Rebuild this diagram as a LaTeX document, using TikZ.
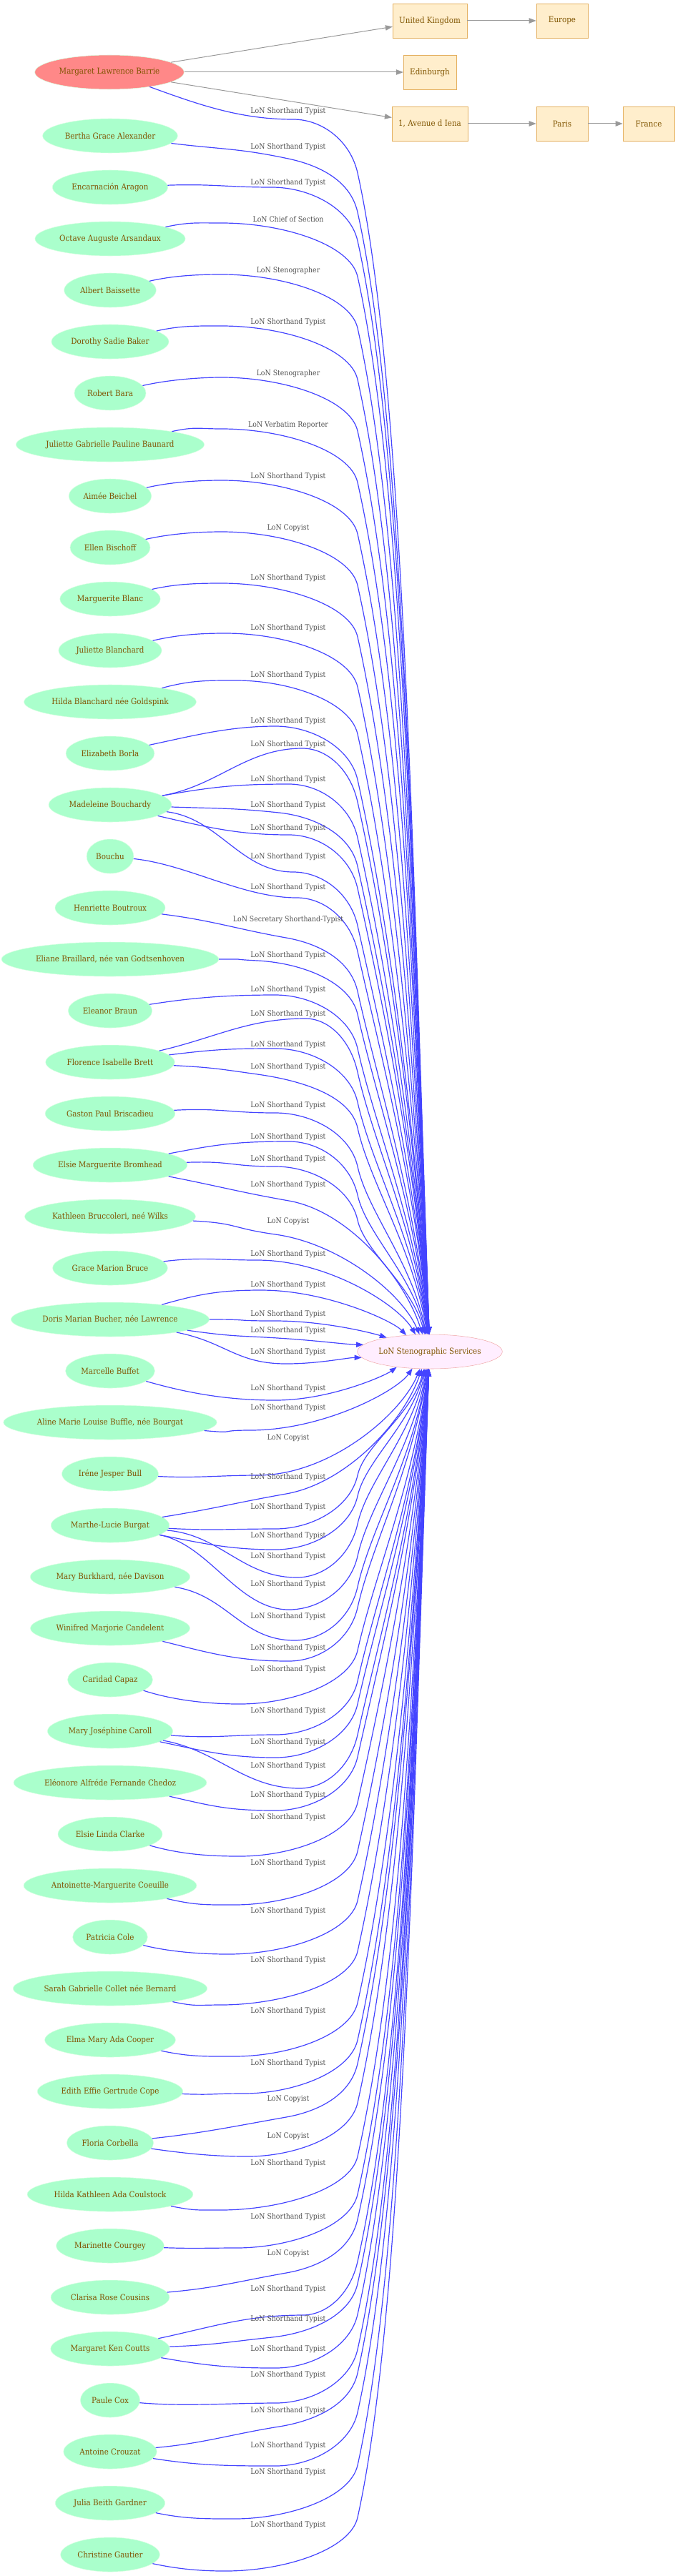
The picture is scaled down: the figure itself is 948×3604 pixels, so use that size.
\documentclass[tikz,border=0pt]{standalone}
\usepackage{fontspec}
\setmainfont{DejaVu Serif}[FakeStretch=0.9]
\usetikzlibrary{shapes.geometric,arrows.meta}
\definecolor{persongreen}{RGB}{170,255,204}
\definecolor{personline}{RGB}{215,255,225}
\definecolor{barriered}{RGB}{255,136,136}
\definecolor{servicepink}{RGB}{255,238,255}
\definecolor{serviceline}{RGB}{240,170,170}
\definecolor{placefill}{RGB}{255,238,204}
\definecolor{placeline}{RGB}{228,176,96}
\definecolor{nametext}{RGB}{128,84,0}
\definecolor{jobblue}{RGB}{68,68,255}
\definecolor{placegray}{RGB}{153,153,153}
\definecolor{jobtext}{RGB}{80,80,80}

\begin{document}
\begin{tikzpicture}[x=0.75pt,y=0.75pt,
  person/.style={ellipse,draw=personline,fill=persongreen,text=nametext,
    minimum height=36pt,inner xsep=2.6pt,inner ysep=1pt,font=\fontsize{8.6}{10}\selectfont},
  service/.style={ellipse,draw=serviceline,fill=servicepink,text=nametext,
    minimum height=36pt,inner xsep=0pt,inner ysep=1pt,font=\fontsize{8.6}{10}\selectfont},
  place/.style={rectangle,draw=placeline,fill=placefill,text=nametext,
    minimum width=54pt,minimum height=36pt,inner xsep=6.75pt,font=\fontsize{8.6}{10}\selectfont},
  joblabel/.style={text=jobtext,inner sep=0pt,font=\fontsize{7.8}{9}\selectfont},
  job/.style={jobblue,line width=0.9pt,-{Triangle[length=7.5pt,width=5.5pt]}},
  placeedge/.style={placegray,line width=0.75pt,-{Triangle[length=7.5pt,width=5.5pt]}}]

  \useasboundingbox (0,0) rectangle (948,-3604);

  \node[person,fill=barriered] (barrie) at (153,-101) {Margaret Lawrence Barrie};
  \node[place] (uk) at (601,-29) {United Kingdom};
  \node[place] (europe) at (786,-29) {Europe};
  \node[place] (edinburgh) at (601,-101) {Edinburgh};
  \node[place] (iena) at (601,-173) {1, Avenue d Iena};
  \node[place] (paris) at (786,-173) {Paris};
  \node[place] (france) at (907,-173) {France};
  \node[service] (lonss) at (601,-1891) {LoN Stenographic Services};

  \foreach \a/\b in {barrie/uk,barrie/edinburgh,barrie/iena,uk/europe,iena/paris,paris/france}
    \draw[placeedge] (\a) -- (\b);

  \foreach \nm/\txt [count=\i] in {
    alexander/Bertha Grace Alexander,
    aragon/Encarnación Aragon,
    arsandaux/Octave Auguste Arsandaux,
    baissette/Albert Baissette,
    baker/Dorothy Sadie Baker,
    bara/Robert Bara,
    baunard/Juliette Gabrielle Pauline Baunard,
    beichel/Aimée Beichel,
    bischoff/Ellen Bischoff,
    blanc/Marguerite Blanc,
    blanchardj/Juliette Blanchard,
    blanchardh/Hilda Blanchard née Goldspink,
    borla/Elizabeth Borla,
    bouchardy/Madeleine Bouchardy,
    bouchu/Bouchu,
    boutroux/Henriette Boutroux,
    braillard/{Eliane Braillard, née van Godtsenhoven},
    braun/Eleanor Braun,
    brett/Florence Isabelle Brett,
    briscadieu/Gaston Paul Briscadieu,
    bromhead/Elsie Marguerite Bromhead,
    bruccoleri/{Kathleen Bruccoleri, neé Wilks},
    bruce/Grace Marion Bruce,
    bucher/{Doris Marian Bucher, née Lawrence},
    buffet/Marcelle Buffet,
    buffle/{Aline Marie Louise Buffle, née Bourgat},
    bull/Iréne Jesper Bull,
    burgat/Marthe-Lucie Burgat,
    burkhard/{Mary Burkhard, née Davison},
    candelent/Winifred Marjorie Candelent,
    capaz/Caridad Capaz,
    caroll/Mary Joséphine Caroll,
    chedoz/Eléonore Alfréde Fernande Chedoz,
    clarke/Elsie Linda Clarke,
    coeuille/Antoinette-Marguerite Coeuille,
    cole/Patricia Cole,
    collet/Sarah Gabrielle Collet née Bernard,
    cooper/Elma Mary Ada Cooper,
    cope/Edith Effie Gertrude Cope,
    corbella/Floria Corbella,
    coulstock/Hilda Kathleen Ada Coulstock,
    courgey/Marinette Courgey,
    cousins/Clarisa Rose Cousins,
    coutts/Margaret Ken Coutts,
    cox/Paule Cox,
    crouzat/Antoine Crouzat,
    gardner/Julia Beith Gardner,
    gautier/Christine Gautier}
  {
    \node[person] (\nm) at (154,{-190-72*(\i-1)}) {\txt};
  }

  % source / leaving angle / turn point x,y / turn angle / label y / job
  \foreach \src/\ang/\mx/\my/\ps/\ly/\job [count=\jobno] in {
    barrie/-20/410/167/0/156/Shorthand Typist,
    alexander/-7/403/222/-12/206/Shorthand Typist,
    aragon/2/380/262/0/256/Shorthand Typist,
    arsandaux/12/310/312/0/307/Chief of Section,
    baissette/13/310/384/0/379/Stenographer,
    baker/13/310/456/0/451/Shorthand Typist,
    bara/13/310/528/0/523/Stenographer,
    baunard/12/310/600/0/595/Verbatim Reporter,
    beichel/13/310/672/0/667/Shorthand Typist,
    bischoff/13/310/744/0/739/Copyist,
    blanc/13/310/816/0/809/Shorthand Typist,
    blanchardj/13/315/886/0/879/Shorthand Typist,
    blanchardh/15/330/952/0/945/Shorthand Typist,
    borla/12/385/1016/0/1009/Shorthand Typist,
    bouchardy/10/423/1047/0/1042/Shorthand Typist,
    bouchardy/10/404/1097/0/1091/Shorthand Typist,
    bouchardy/-2/390/1137/-6/1127/Shorthand Typist,
    bouchardy/-13/404/1168/0/1159/Shorthand Typist,
    bouchardy/-7/410/1220/0/1199/Shorthand Typist,
    bouchu/-6/415/1256/0/1242/Shorthand Typist,
    boutroux/-7/400/1312/-10/1287/Secretary Shorthand-Typist,
    braillard/0/360/1344/-3/1337/Shorthand Typist,
    braun/9/385/1392/0/1385/Shorthand Typist,
    brett/13/427/1425/0/1419/Shorthand Typist,
    brett/7/385/1467/0/1462/Shorthand Typist,
    brett/-3/360/1503/-8/1493/Shorthand Typist,
    briscadieu/3/385/1557/0/1547/Shorthand Typist,
    bromhead/11/404/1597/0/1591/Shorthand Typist,
    bromhead/2/385/1632/0/1622/Shorthand Typist,
    bromhead/-11/404/1680/-10/1658/Shorthand Typist,
    bruccoleri/-3/385/1727/-8/1709/Copyist,
    bruce/7/360/1763/0/1755/Shorthand Typist,
    bucher/16/365/1805/0/1798/Shorthand Typist,
    bucher/0/385/1848/0/1839/Shorthand Typist,
    bucher/-8/403/1873/-4/1862/Shorthand Typist,
    bucher/-11/400/1908/0/1892/Shorthand Typist,
    buffet/-16/385/1959/0/1943/Shorthand Typist,
    buffle/-5/350/2001/0/1970/Shorthand Typist,
    bull/-3/360/2064/0/2012/Copyist,
    burgat/9/400/2090/10/2067/Shorthand Typist,
    burgat/-3/385/2139/0/2109/Shorthand Typist,
    burgat/-11/385/2168/0/2149/Shorthand Typist,
    burgat/-5/415/2207/0/2178/Shorthand Typist,
    burgat/-11/404/2252/0/2217/Shorthand Typist,
    burkhard/-9/412/2295/0/2262/Shorthand Typist,
    candelent/-14/404/2324/0/2306/Shorthand Typist,
    capaz/-18/335/2384/0/2336/Shorthand Typist,
    caroll/-4/385/2427/0/2394/Shorthand Typist,
    caroll/-12/385/2459/0/2438/Shorthand Typist,
    caroll/-10/419/2502/0/2471/Shorthand Typist,
    chedoz/-13/385/2533/0/2512/Shorthand Typist,
    clarke/-16/335/2597/0/2543/Shorthand Typist,
    coeuille/-13/327/2665/0/2607/Shorthand Typist,
    cole/-14/319/2734/0/2674/Shorthand Typist,
    collet/-12/308/2805/0/2743/Shorthand Typist,
    cooper/-12/327/2877/0/2814/Shorthand Typist,
    cope/-2/340/2929/0/2887/Shorthand Typist,
    corbella/6/400/2962/10/2937/Copyist,
    corbella/-8/346/3017/0/2989/Copyist,
    coulstock/-11/308/3092/0/3027/Shorthand Typist,
    courgey/-2/330/3145/0/3102/Shorthand Typist,
    cousins/5/400/3180/10/3153/Copyist,
    coutts/12/423/3239/0/3203/Shorthand Typist,
    coutts/2/380/3270/6/3245/Shorthand Typist,
    coutts/-10/385/3313/0/3287/Shorthand Typist,
    cox/-5/385/3362/0/3323/Shorthand Typist,
    crouzat/5/390/3395/9/3373/Shorthand Typist,
    crouzat/-9/385/3450/0/3422/Shorthand Typist,
    gardner/-12/327/3524/0/3459/Shorthand Typist,
    gautier/-12/315/3597/0/3533/Shorthand Typist}
  {
    \pgfmathsetmacro\dY{\my-1891}
    \pgfmathsetmacro\sg{\dY<0 ? 1 : -1}
    \pgfmathsetmacro\dd{max(abs(\dY)-24,1)}
    \pgfmathtruncatemacro\kind{abs(\dY)<30 ? 0 : (\dd<=200 ? 1 : 2)}
    \pgfmathtruncatemacro\tha{mod(\ang+360,360)}
    \pgfmathsetmacro\psb{\ps+180}
    \pgfmathsetmacro\la{max(25,0.4*(\mx-225))}
    \ifnum\kind=0
      \pgfmathsetmacro\ddy{(1891-\my)/2}
      \pgfmathsetmacro\xo{-98*sqrt(1-(\ddy/24)^2)}
      \pgfmathtruncatemacro\endang{mod(atan2(\ddy,\xo)+360,360)}
      \def\ain{180}
      \def\exx{503}
    \else
      \pgfmathsetmacro\exx{min(600,max(540,604-2600/(\dd+10)))}
      \pgfmathsetmacro\xo{\exx-601}
      \pgfmathsetmacro\yo{24*sqrt(1-(\xo/98)^2)}
      \pgfmathtruncatemacro\endang{mod(atan2(\sg*\yo,\xo)+360,360)}
      \pgfmathsetmacro\ain{180-\sg*atan(\dd/60)}
    \fi
    \node[joblabel] (l\jobno) at (403,-\ly) {LoN \job};
    \ifnum\kind=2
      \pgfmathsetmacro\by{\my+\sg*75}
      \pgfmathsetmacro\cy{\my+\sg*30}
      \pgfmathsetmacro\lc{0.45*(500-\mx)}
      \pgfmathsetmacro\bout{\sg*102.5-180}
      \pgfmathsetmacro\ll{abs(1891-\by)}
      \pgfmathsetmacro\ld{min(300,0.25*\ll)}
      \pgfmathsetmacro\le{0.39*\ll}
      \draw[job] (\src.\tha) .. controls +(\ang:\la) and +(\psb:\la) .. (\mx,-\my)
        .. controls +(\ps:\lc) and (490,-\cy) .. (500,-\by)
        .. controls +(\bout:\ld) and +(\ain:\le) .. (lonss.\endang);
    \else
      \pgfmathsetmacro\lc{max(20,0.45*(\exx-\mx))}
      \pgfmathsetmacro\le{max(20,0.45*\dd)}
      \draw[job] (\src.\tha) .. controls +(\ang:\la) and +(\psb:\la) .. (\mx,-\my)
        .. controls +(\ps:\lc) and +(\ain:\le) .. (lonss.\endang);
    \fi
  }
\end{tikzpicture}
\end{document}
